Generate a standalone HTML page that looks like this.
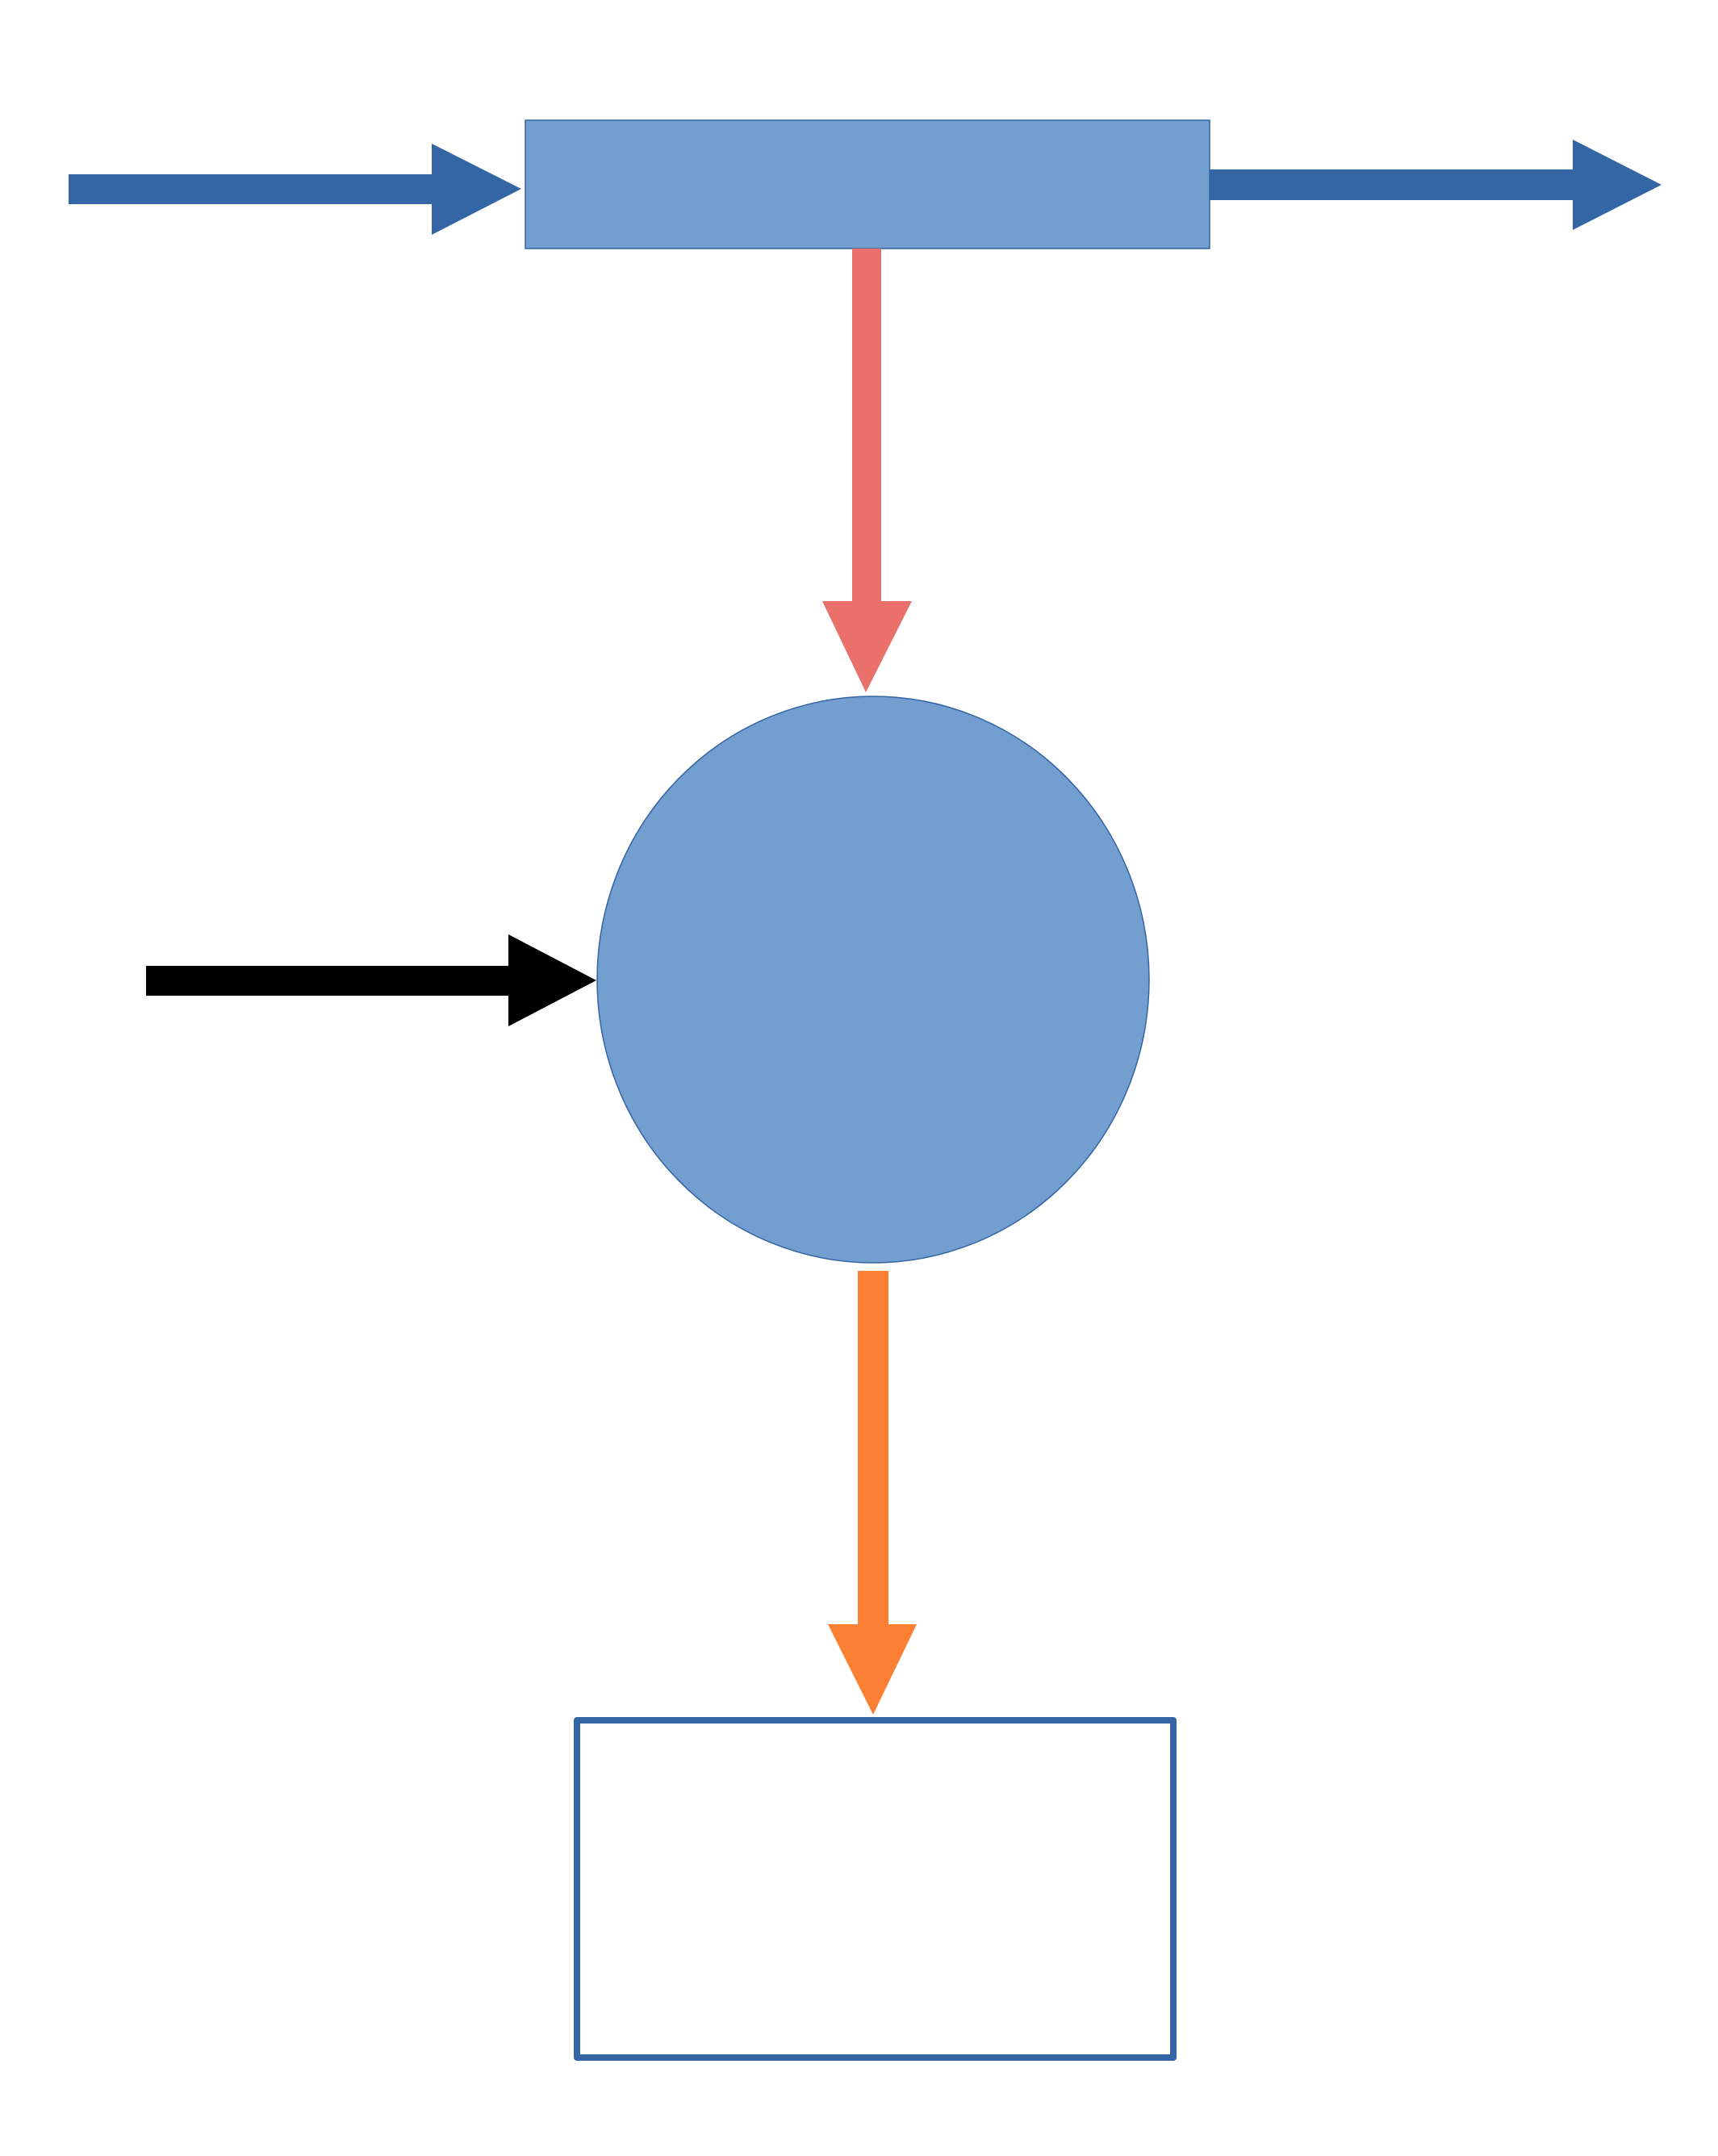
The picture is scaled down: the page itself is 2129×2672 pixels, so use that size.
<!DOCTYPE html>
<html><head><style>html,body{margin:0;padding:0;background:#fff}svg{display:block}</style></head>
<body>
<svg width="2129" height="2672" viewBox="0 0 2129 2672" xmlns="http://www.w3.org/2000/svg">
<g transform="translate(2,1)">
<rect x="649" y="148" width="848" height="159" fill="#729fcf" stroke="#3465a4" stroke-width="1.5"/>
<polygon points="83,215 533,215 533,177 644,233 533,290 533,252 83,252" fill="#3465a4"/>
<polygon points="1497,209 1947,209 1947,172 2057,228 1947,284 1947,247 1497,247" fill="#3465a4"/>
<polygon points="1054,307 1090,307 1090,744 1128,744 1071,857 1017,744 1054,744" fill="#ea706b"/>
<ellipse cx="1080" cy="1213" rx="342" ry="351" fill="#729fcf" stroke="#3465a4" stroke-width="1.5"/>
<polygon points="179,1196 628,1196 628,1157 737,1214 628,1271 628,1233 179,1233" fill="#000"/>
<polygon points="1061,1574 1099,1574 1099,2012 1134,2012 1080,2124 1024,2012 1061,2012" fill="#fc8034"/>
<rect x="713" y="2131" width="739" height="418" fill="none" stroke="#3465a4" stroke-width="8" stroke-linejoin="round"/>
</g>
</svg>
</body></html>
